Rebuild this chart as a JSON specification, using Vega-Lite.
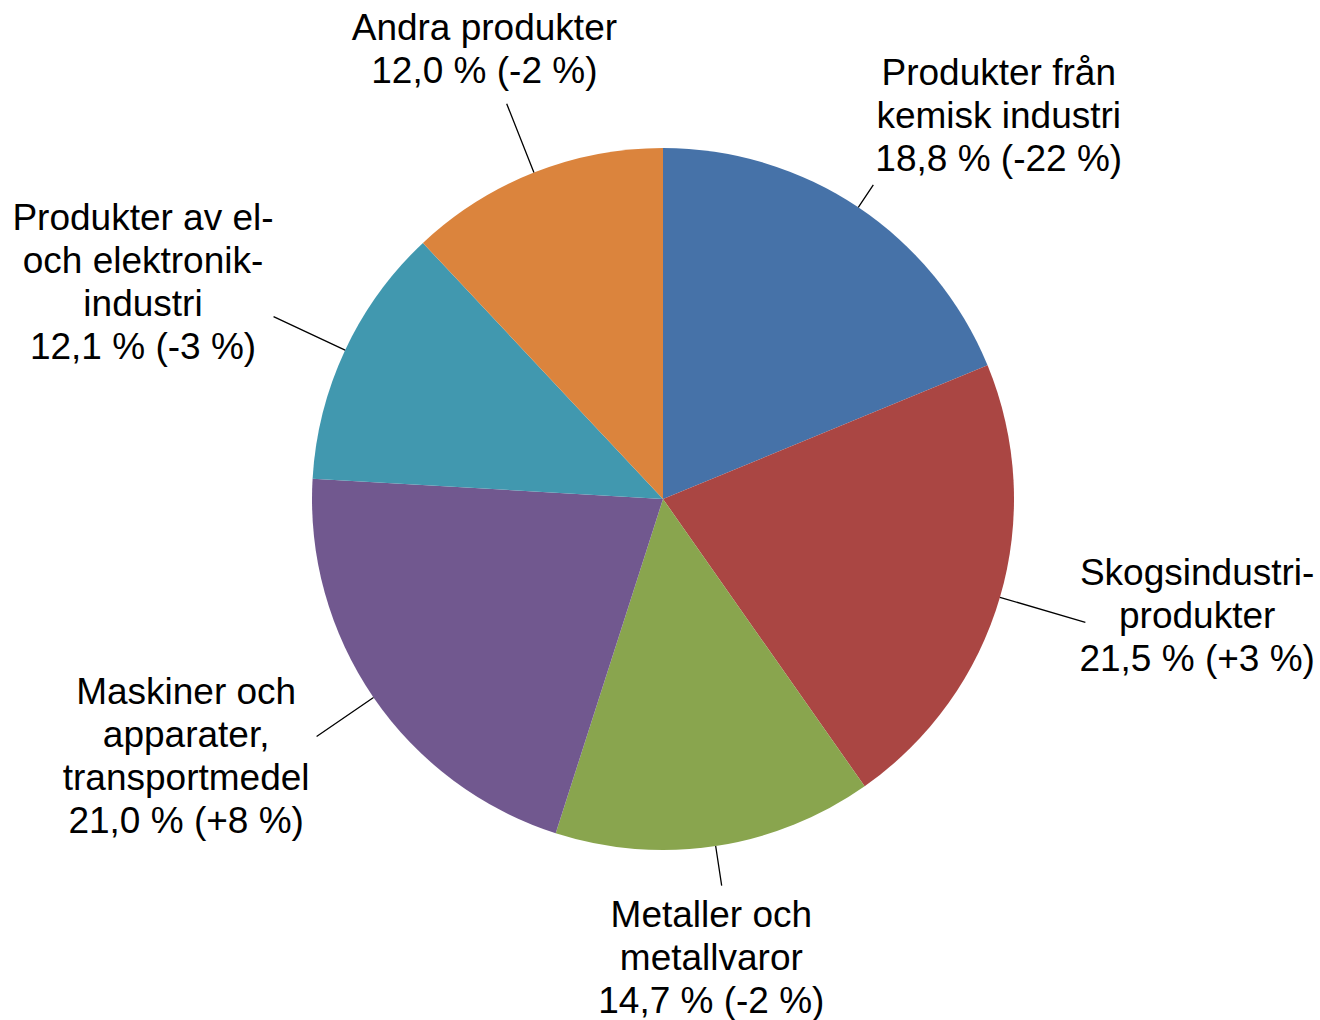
{
  "$schema": "https://vega.github.io/schema/vega-lite/v6.json",
  "width": 1314,
  "height": 998,
  "autosize": {"type": "none"},
  "padding": {"left": 6, "top": 0, "right": 0, "bottom": 22},
  "background": "white",
  "config": {"view": {"stroke": null}},
  "data": {
    "values": [
      {"cat": "kem", "ord": 1, "share": 18.8, "label": "Produkter från\nkemisk industri\n18,8 % (-22 %)"},
      {"cat": "skog", "ord": 2, "share": 21.5, "label": "Skogsindustri-\nprodukter\n21,5 % (+3 %)"},
      {"cat": "met", "ord": 3, "share": 14.7, "label": "Metaller och\nmetallvaror\n14,7 % (-2 %)"},
      {"cat": "mask", "ord": 4, "share": 21.0, "label": "Maskiner och\napparater,\ntransportmedel\n21,0 % (+8 %)"},
      {"cat": "el", "ord": 5, "share": 12.1, "label": "Produkter av el-\noch elektronik-\nindustri\n12,1 % (-3 %)"},
      {"cat": "andra", "ord": 6, "share": 12.0, "label": "Andra produkter\n12,0 % (-2 %)"}
    ]
  },
  "encoding": {
    "theta": {"field": "share", "type": "quantitative", "stack": true},
    "order": {"field": "ord", "type": "quantitative"},
    "detail": {"field": "cat", "type": "nominal"}
  },
  "layer": [
    {
      "mark": {"type": "arc", "radius": 351},
      "encoding": {
        "color": {
          "field": "cat", "type": "nominal",
          "scale": {"domain": ["kem", "skog", "met", "mask", "el", "andra"], "range": ["#4672A8", "#AA4643", "#89A54E", "#71588F", "#4198AF", "#DB843D"]},
          "legend": null
        }
      }
    },
    {"mark": {"type": "arc", "radius": 378, "radius2": 351, "padAngle": 2, "fillOpacity": 0, "stroke": "black", "strokeWidth": 1.3},
     "encoding": {"strokeOpacity": {"condition": {"test": "datum.cat === 'kem'", "value": 1}, "value": 0}}},
    {"mark": {"type": "arc", "radius": 440, "radius2": 351, "padAngle": 2, "fillOpacity": 0, "stroke": "black", "strokeWidth": 1.3},
     "encoding": {"strokeOpacity": {"condition": {"test": "datum.cat === 'skog'", "value": 1}, "value": 0}}},
    {"mark": {"type": "arc", "radius": 391, "radius2": 351, "padAngle": 2, "fillOpacity": 0, "stroke": "black", "strokeWidth": 1.3},
     "encoding": {"strokeOpacity": {"condition": {"test": "datum.cat === 'met'", "value": 1}, "value": 0}}},
    {"mark": {"type": "arc", "radius": 420, "radius2": 351, "padAngle": 2, "fillOpacity": 0, "stroke": "black", "strokeWidth": 1.3},
     "encoding": {"strokeOpacity": {"condition": {"test": "datum.cat === 'mask'", "value": 1}, "value": 0}}},
    {"mark": {"type": "arc", "radius": 430, "radius2": 351, "padAngle": 2, "fillOpacity": 0, "stroke": "black", "strokeWidth": 1.3},
     "encoding": {"strokeOpacity": {"condition": {"test": "datum.cat === 'el'", "value": 1}, "value": 0}}},
    {"mark": {"type": "arc", "radius": 425, "radius2": 351, "padAngle": 2, "fillOpacity": 0, "stroke": "black", "strokeWidth": 1.3},
     "encoding": {"strokeOpacity": {"condition": {"test": "datum.cat === 'andra'", "value": 1}, "value": 0}}},
    {"mark": {"type": "text", "radius": 501, "dx": 57, "dy": -9, "align": "center", "baseline": "middle", "fontSize": 37, "lineHeight": 43, "font": "Liberation Sans", "lineBreak": "\n", "color": "black"},
     "encoding": {"text": {"condition": {"test": "datum.cat === 'kem'", "field": "label", "type": "nominal"}, "value": ""}}},
    {"mark": {"type": "text", "radius": 545, "dx": 11, "dy": -78, "align": "center", "baseline": "middle", "fontSize": 37, "lineHeight": 43, "font": "Liberation Sans", "lineBreak": "\n", "color": "black"},
     "encoding": {"text": {"condition": {"test": "datum.cat === 'skog'", "field": "label", "type": "nominal"}, "value": ""}}},
    {"mark": {"type": "text", "radius": 462, "dx": -21, "dy": -40, "align": "center", "baseline": "middle", "fontSize": 37, "lineHeight": 43, "font": "Liberation Sans", "lineBreak": "\n", "color": "black"},
     "encoding": {"text": {"condition": {"test": "datum.cat === 'met'", "field": "label", "type": "nominal"}, "value": ""}}},
    {"mark": {"type": "text", "radius": 543, "dx": -29, "dy": -113.5, "align": "center", "baseline": "middle", "fontSize": 37, "lineHeight": 43, "font": "Liberation Sans", "lineBreak": "\n", "color": "black"},
     "encoding": {"text": {"condition": {"test": "datum.cat === 'mask'", "field": "label", "type": "nominal"}, "value": ""}}},
    {"mark": {"type": "text", "radius": 562, "dx": -11, "dy": -42, "align": "center", "baseline": "middle", "fontSize": 37, "lineHeight": 43, "font": "Liberation Sans", "lineBreak": "\n", "color": "black"},
     "encoding": {"text": {"condition": {"test": "datum.cat === 'el'", "field": "label", "type": "nominal"}, "value": ""}}},
    {"mark": {"type": "text", "radius": 483, "dx": -1, "dy": -20.5, "align": "center", "baseline": "middle", "fontSize": 37, "lineHeight": 43, "font": "Liberation Sans", "lineBreak": "\n", "color": "black"},
     "encoding": {"text": {"condition": {"test": "datum.cat === 'andra'", "field": "label", "type": "nominal"}, "value": ""}}}
  ]
}
